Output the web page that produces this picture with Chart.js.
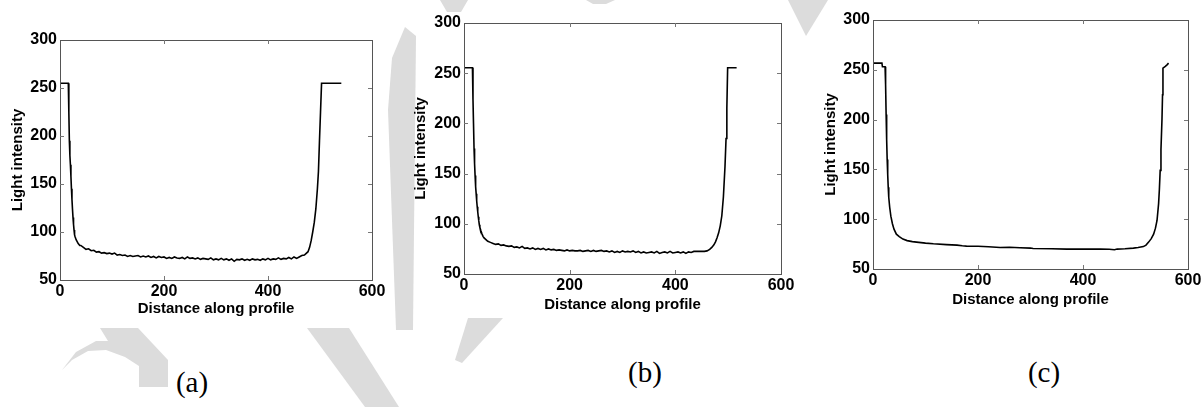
<!DOCTYPE html>
<html>
<head>
<meta charset="utf-8">
<script src="https://cdn.jsdelivr.net/npm/chart.js@4.4.1/dist/chart.umd.min.js"></script>
<style>
    html, body { margin: 0; padding: 0; background: #fff; }
    body { width: 1202px; height: 407px; position: relative; overflow: hidden; }
    #wm { position: absolute; left: 0; top: 0; }
    .panel { position: absolute; }
    .tag { position: absolute; font-family: 'Liberation Serif', 'Times New Roman', serif; font-size: 29px; color: #000; transform: translateX(-50%); }
</style>
</head>
<body>
<svg id="wm" width="1202" height="407">
    <g fill="#dcdcdc">
        <polygon points="440,0 468,0 461,12 447,12"/>
        <polygon points="586,0 615,0 606,4 593,4"/>
        <polygon points="788,0 828,0 806,36"/>
        <polygon points="392,58 405,27 416,36 413,330 396,330 388,110"/>
        <polygon points="100,328 138,328 168,360 168,387 139,387 139,366 125,357 106,350 88,351 72,360 62,370 76,352 96,341 108,341"/>
        <polygon points="307,328 349,328 399,407 365,407"/>
        <polygon points="468,318 503,318 462,363 455,360"/>
    </g>
</svg>

<div class="panel" id="pa"><canvas id="chart-a"></canvas></div>
<div class="panel" id="pb"><canvas id="chart-b"></canvas></div>
<div class="panel" id="pc"><canvas id="chart-c"></canvas></div>

<div class="tag" style="left:192px; top:366px;">(a)</div>
<div class="tag" style="left:645px; top:356px;">(b)</div>
<div class="tag" style="left:1044px; top:356px;">(c)</div>

<script>
// tick values shared by the three panels
const X_TICKS = [0, 200, 400, 600];
const Y_TICKS = [50, 100, 150, 200, 250, 300];
const X_TITLE = 'Distance along profile';
const Y_TITLE = 'Light intensity';

// (a) profile, noisy
const distA = [0, 5, 10, 16, 17, 18, 19, 20, 21, 22, 23, 24, 25, 26, 27, 28, 29, 31, 33, 35, 38,
    40, 45, 50, 55, 60, 65, 70, 75, 80, 85, 90, 95, 100, 105, 110, 115, 120, 125, 130, 135,
    140, 145, 150, 155, 160, 165, 170, 175, 180, 185, 190, 195, 200, 205, 210, 215, 220, 225,
    230, 235, 240, 245, 250, 255, 260, 265, 270, 275, 280, 285, 290, 295, 300, 305, 310, 315,
    320, 325, 330, 335, 340, 345, 350, 355, 360, 365, 370, 375, 380, 385, 390, 395, 400, 405,
    410, 415, 420, 425, 430, 435, 440, 445, 450, 455, 460, 465, 470,
    473, 477, 480, 483, 486, 489, 492, 495, 497, 499, 501, 503, 510, 520, 530, 541];
const intensityA = [255, 255, 255, 255, 225, 195, 180, 170, 158, 145, 134, 124, 115, 108, 102, 97, 95, 92, 90, 88, 86,
    86, 84, 82, 82.5, 80.5, 81, 79, 79.5, 78, 78.5, 77.5, 78, 77, 78, 76, 76.5, 75.5, 76, 74.5, 75.5,
    74.5, 75, 75.5, 74, 75, 74, 75, 73.5, 74.5, 73, 74.5, 73.5, 74, 72.5, 73.5, 72.5, 74, 73,
    72.5, 73.5, 72, 74, 72.5, 73, 72, 73, 71.5, 72.5, 72, 71.5, 73, 71, 72, 71, 72.5, 71,
    72, 70.5, 72, 69.5, 71.5, 71, 72, 70.5, 71.5, 70.5, 72, 71, 71.5, 70.5, 72, 71, 72.5, 71,
    72, 71.5, 73, 71.5, 72.5, 72, 73.5, 72, 74, 72.5, 74, 75.5, 76,
    77.5, 79.5, 84, 91, 100, 110, 124, 145, 163, 195, 225, 255, 255, 255, 255, 255];

// (b) profile, less noisy
const distB = [0, 5, 10, 16, 17, 18, 19, 20, 21, 22, 23, 24, 25, 26, 27, 28, 29, 30, 32, 34, 36, 38, 41, 45,
    50, 55, 60, 65, 70, 75, 80, 85, 90, 95, 100, 105, 110, 115, 120, 125, 130, 135, 140, 145,
    150, 155, 160, 165, 170, 175, 180, 185, 190, 195, 200, 205, 210, 215, 220, 225, 230, 235,
    240, 245, 250, 255, 260, 265, 270, 275, 280, 285, 290, 295, 300, 305, 310, 315, 320, 325,
    330, 335, 340, 345, 350, 355, 360, 365, 370, 375, 380, 385, 390, 395, 400, 405, 410, 415,
    420, 425, 430, 435, 440, 445, 450, 455, 460, 465,
    469, 473, 476, 479, 482, 485, 488, 491, 494, 496, 497.5, 499, 505, 516];
const intensityB = [255.5, 255.5, 255.5, 255.5, 224, 200, 175, 160, 148, 137, 130, 123, 117, 112, 107, 103, 99, 96.5, 93, 90, 87.5, 86, 84.5, 82.5,
    81.5, 80.5, 79.5, 80, 78.5, 79, 78, 77.5, 78, 76.5, 77, 76, 77.5, 75.5, 76, 75, 76, 74.5, 75.5, 74.5,
    75.5, 74, 75, 74, 74.5, 73.5, 74, 73.5, 73, 74, 73, 73.5, 73, 73, 73.5, 72.5, 73, 73.5,
    72.5, 73.5, 72.5, 73, 73.5, 72.5, 73, 72, 73, 71.5, 72.5, 71.5, 73, 72, 72.5, 72, 73, 71.5,
    72.5, 71, 72, 71, 71.5, 72, 71, 72.5, 70.5, 71.5, 72, 71, 72.5, 71, 71.5, 72, 71, 72,
    70.5, 72, 71.5, 72.5, 72.5, 72.5, 72.5, 72.5, 73, 74.5,
    76.5, 79, 82, 86, 91, 98, 108, 127, 157, 185, 215, 255.5, 255.5, 255.5];

// (c) profile, smooth
const distC = [0, 10, 17, 18, 23, 24, 25, 26, 27, 28, 29, 30, 31.8, 34, 37, 40, 44.5, 50, 57, 65, 75, 83,
    100, 115, 140, 160, 170, 178, 200, 220, 242, 260, 280, 300, 305, 340, 369, 400, 433, 450, 460,
    465, 480, 496, 505, 515, 520, 525, 530, 534.5, 538, 541, 544, 545.5, 547, 548.5, 550.4, 551.5,
    552.3, 556.8, 560, 563];
const intensityC = [256.7, 256.7, 256.7, 253, 253, 235, 205, 180, 160, 145, 132, 122, 112, 103, 95.4, 90, 85, 82.5, 80, 78.5, 77.5, 77,
    76, 75.3, 74.5, 74, 73.3, 73, 72.8, 72.3, 71.6, 71.8, 71.3, 71, 70.6, 70.3, 70, 70, 70, 69.8, 69.4,
    70, 70.3, 71, 71.6, 72.5, 74, 77, 80.5, 85, 91, 98.7, 115.6, 130, 149, 170, 199.6, 225,
    251.7, 253.4, 255, 256.7];

Chart.defaults.font.family = "'Liberation Sans', Arial, sans-serif";
Chart.defaults.color = '#000';

// MATLAB style frame with inward ticks on all sides
const boxPlugin = {
    id: 'matlabBox',
    afterDatasetsDraw(chart) {
        const { ctx, chartArea: a, scales: { x, y } } = chart;
        ctx.save();
        ctx.strokeStyle = '#555';
        ctx.lineWidth = 1;
        ctx.strokeRect(Math.round(a.left) + 0.5, Math.round(a.top) + 0.5, Math.round(a.right - a.left), Math.round(a.bottom - a.top));
        ctx.strokeStyle = '#777';
        ctx.beginPath();
        X_TICKS.slice(1, -1).forEach(v => {
            const px = Math.round(x.getPixelForValue(v)) + 0.5;
            ctx.moveTo(px, a.bottom); ctx.lineTo(px, a.bottom - 4);
            ctx.moveTo(px, a.top); ctx.lineTo(px, a.top + 4);
        });
        Y_TICKS.slice(1, -1).forEach(v => {
            const py = Math.round(y.getPixelForValue(v)) + 0.5;
            ctx.moveTo(a.left, py); ctx.lineTo(a.left + 4, py);
            ctx.moveTo(a.right, py); ctx.lineTo(a.right - 4, py);
        });
        ctx.stroke();
        ctx.restore();
    }
};

const makePanel = (id, boxId, plot, dist, values, yTitlePad, xTitlePad) => {
    const box = document.getElementById(boxId);
    box.style.left = (plot.left - 60) + 'px';
    box.style.top = (plot.top - 20) + 'px';
    box.style.width = (plot.width + 85) + 'px';
    box.style.height = (plot.height + 65) + 'px';

    const tickFont = { size: 16, weight: 'bold' };
    return new Chart(document.getElementById(id), {
        type: 'line',
        data: {
            datasets: [{
                data: dist.map((d, i) => ({ x: d, y: values[i] })),
                borderColor: '#000',
                borderWidth: 1.6,
                pointRadius: 0,
                tension: 0,
                fill: false
            }]
        },
        options: {
            responsive: true,
            maintainAspectRatio: false,
            animation: false,
            devicePixelRatio: 1,
            layout: { padding: { left: 0, top: 20, right: 25, bottom: 0 } },
            plugins: { legend: { display: false }, tooltip: { enabled: false } },
            scales: {
                x: {
                    type: 'linear',
                    min: 0, max: 600,
                    afterBuildTicks: s => { s.ticks = X_TICKS.map(v => ({ value: v })); },
                    afterFit: s => { s.height = 45; },
                    grid: { display: false, drawTicks: false },
                    border: { display: false },
                    ticks: { font: tickFont, padding: 2, maxRotation: 0, color: '#000' },
                    title: { display: true, text: X_TITLE, font: { size: 15, weight: 'bold' }, padding: { top: 0, bottom: xTitlePad } }
                },
                y: {
                    type: 'linear',
                    min: 50, max: 300,
                    afterBuildTicks: s => { s.ticks = Y_TICKS.map(v => ({ value: v })); },
                    afterFit: s => { s.width = 60; },
                    grid: { display: false, drawTicks: false },
                    border: { display: false },
                    ticks: { font: tickFont, padding: 3, color: '#000' },
                    title: { display: true, text: Y_TITLE, font: { size: 15, weight: 'bold' }, padding: { top: yTitlePad, bottom: 0 } }
                }
            }
        },
        plugins: [boxPlugin]
    });
};

makePanel('chart-a', 'pa', { left: 60, top: 40, width: 312, height: 240 }, distA, intensityA, 9, 7);
makePanel('chart-b', 'pb', { left: 464, top: 23, width: 317, height: 251 }, distB, intensityB, 8, 5);
makePanel('chart-c', 'pc', { left: 873, top: 20, width: 315, height: 249 }, distC, intensityC, 9, 5);
</script>
</body>
</html>
